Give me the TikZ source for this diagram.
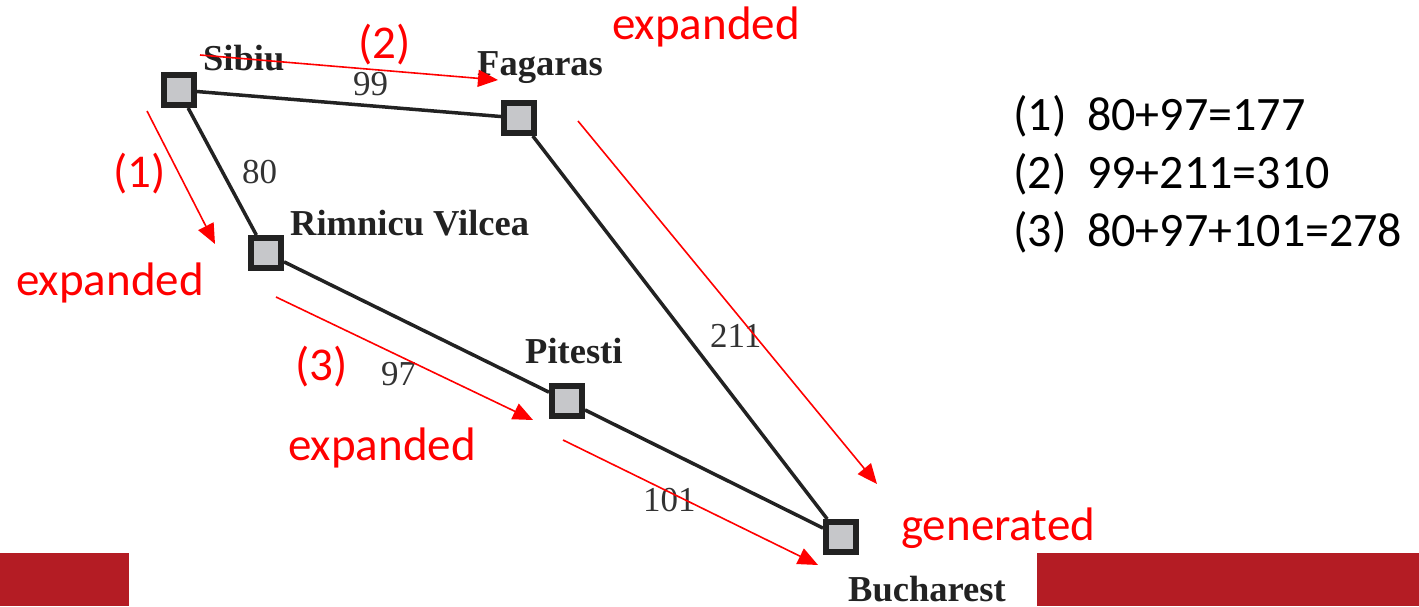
\documentclass[tikz,border=0pt]{standalone}
\usepackage{fontspec}
\setmainfont{Liberation Serif}
\newfontfamily\calib{Carlito}
\usetikzlibrary{arrows.meta}
\definecolor{edgegray}{HTML}{222222}
\definecolor{boxgray}{HTML}{C6C7CA}
\definecolor{barred}{HTML}{B41C24}
\definecolor{numgray}{HTML}{333333}
\tikzset{
  city/.style={draw=edgegray, fill=boxgray, line width=6pt, minimum size=30pt, inner sep=0pt, rectangle},
  road/.style={draw=edgegray, line width=3.5pt},
  cityname/.style={font=\fontsize{36.5}{40}\selectfont\bfseries, text=edgegray, inner sep=0pt, anchor=base west},
  cost/.style={font=\fontsize{35}{40}\selectfont, text=numgray, inner sep=0pt, anchor=base west},
  redtxt/.style={font=\calib\fontsize{47}{50}\selectfont, text=red, inner sep=0pt, anchor=base west},
  blktxt/.style={font=\calib\fontsize{48}{50}\selectfont, text=black, inner sep=0pt, anchor=base west},
  redarrow/.style={draw=red, line width=1.6pt, -{Triangle[length=20pt, width=17pt]}},
}
\begin{document}
\begin{tikzpicture}[x=1pt,y=-1pt]
\useasboundingbox (0,0) rectangle (1419,606);
% bottom bars
\fill[barred] (0,553) rectangle (129,606);
\fill[barred] (1037,553) rectangle (1419,606);
% cities
\node[city] (S) at (178.5,90) {};
\node[city] (F) at (519,118) {};
\node[city] (R) at (266,253) {};
\node[city] (P) at (567,401) {};
\node[city] (B) at (841,537) {};
% roads
\draw[road] (S) -- (F);
\draw[road] (S) -- (R);
\draw[road] (R) -- (P);
\draw[road] (P) -- (B);
\draw[road] (F) -- (B);
% city names
\node[cityname] (tS) at (203,70) {Sibiu};
\node[cityname] (tF) at (477,75) {Fagaras};
\node[cityname] (tR) at (290,235) {Rimnicu Vilcea};
\node[cityname] (tP) at (525,363) {Pitesti};
\node[cityname] (tB) at (848,601) {Bucharest};
% costs
\node[cost] (c99) at (353,95) {99};
\node[cost] (c80) at (242,183) {80};
\node[cost] (c97) at (381,385) {97};
\node[cost] (c211) at (710,347) {211};
\node[cost] (c101) at (643,511) {101};
% red arrows
\coordinate (a1s) at (147,111); \coordinate (a1e) at (215,244);
\coordinate (a2s) at (200,55);  \coordinate (a2e) at (498,80);
\coordinate (afs) at (578,121); \coordinate (afe) at (877,484);
\coordinate (a3s) at (276,297); \coordinate (a3e) at (533,420);
\coordinate (abs) at (563,440); \coordinate (abe) at (818,565);
\draw[redarrow] (a1s) -- (a1e);
\draw[redarrow] (a2s) -- (a2e);
\draw[redarrow] (afs) -- (afe);
\draw[redarrow] (a3s) -- (a3e);
\draw[redarrow] (abs) -- (abe);
% red labels
\node[redtxt] (l1) at (113,187) {(1)};
\node[redtxt] (l2) at (358,58) {(2)};
\node[redtxt] (l3) at (295,380) {(3)};
\node[redtxt] (e1) at (612,39) {expanded};
\node[redtxt] (e2) at (16,295) {expanded};
\node[redtxt] (e3) at (288,460) {expanded};
\node[redtxt] (g1) at (901,540) {generated};
% list
\node[blktxt] (n1) at (1013,130) {(1)};
\node[blktxt] (s1) at (1087,130) {80+97=177};
\node[blktxt] (n2) at (1013,188) {(2)};
\node[blktxt] (s2) at (1087,188) {99+211=310};
\node[blktxt] (n3) at (1013,246) {(3)};
\node[blktxt] (s3) at (1087,246) {80+97+101=278};
\end{tikzpicture}
\end{document}
